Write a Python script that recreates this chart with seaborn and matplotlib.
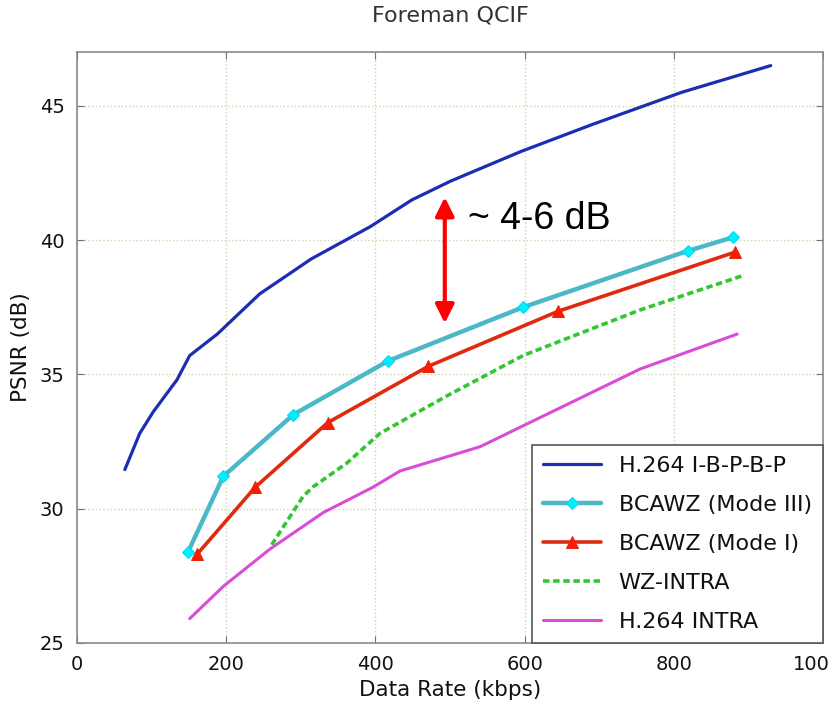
import matplotlib
matplotlib.use("Agg")
import matplotlib.pyplot as plt
import matplotlib.transforms as mtransforms
import seaborn as sns

# Rate-distortion curves (kbps, dB)
h264_ibpbp_rate = [64, 84, 102, 134, 151, 188, 245, 314, 393, 449, 501, 595, 690, 810, 930]
h264_ibpbp_psnr = [31.45, 32.8, 33.6, 34.8, 35.7, 36.5, 38.0, 39.3, 40.5, 41.5, 42.2, 43.3, 44.3, 45.5, 46.5]

mode3_rate = [149, 196, 290, 417, 598, 819, 879]
mode3_psnr = [28.4, 31.2, 33.5, 35.5, 37.5, 39.6, 40.1]

mode1_rate = [161, 239, 336, 471, 645, 882]
mode1_psnr = [28.3, 30.8, 33.2, 35.3, 37.35, 39.55]

wz_intra_rate = [261, 276, 303, 316, 362, 406, 496, 598, 755, 895]
wz_intra_psnr = [28.65, 29.3, 30.45, 30.8, 31.7, 32.8, 34.2, 35.7, 37.4, 38.7]

h264_intra_rate = [151, 196, 259, 330, 397, 433, 540, 755, 885]
h264_intra_psnr = [25.9, 27.1, 28.5, 29.85, 30.8, 31.4, 32.3, 35.2, 36.5]

x_ticks = [0, 200, 400, 600, 800, 1000]
x_tick_labels = ["0", "200", "400", "600", "800", "100"]  # last label is cut short in the source
y_ticks = [25, 30, 35, 40, 45]

sns.set_style("ticks")
plt.rcParams["font.family"] = ["DejaVu Sans"]
plt.rcParams["xtick.direction"] = "in"
plt.rcParams["ytick.direction"] = "in"

fig = plt.figure(figsize=(8.38, 7.15), dpi=100)
ax = fig.add_axes([0.092, 0.101, 0.890, 0.826])

sns.lineplot(x=h264_ibpbp_rate, y=h264_ibpbp_psnr, ax=ax, color="#1c2db4",
             linewidth=2.3, label="H.264 I-B-P-B-P")
sns.lineplot(x=mode3_rate, y=mode3_psnr, ax=ax, color="#4bb8c8", linewidth=3.2,
             marker="D", markersize=6, markerfacecolor="#00f0ff",
             markeredgecolor="#00d8f0", label="BCAWZ (Mode III)")
sns.lineplot(x=mode1_rate, y=mode1_psnr, ax=ax, color="#e02a10", linewidth=2.6,
             marker="^", markersize=8, markerfacecolor="#ff1a00",
             markeredgecolor="#e02a10", label="BCAWZ (Mode I)")
sns.lineplot(x=wz_intra_rate, y=wz_intra_psnr, ax=ax, color="#33c633", linewidth=2.6,
             linestyle=(0, (1.8, 1.0)), label="WZ-INTRA")
sns.lineplot(x=h264_intra_rate, y=h264_intra_psnr, ax=ax, color="#d84cd8",
             linewidth=2.2, label="H.264 INTRA")

# gap annotation
ax.annotate("", xy=(493, 41.6), xytext=(493, 36.9),
            arrowprops=dict(arrowstyle="<|-|>", color="#ff0000", lw=3.0,
                            mutation_scale=28, shrinkA=0, shrinkB=0))
ax.text(524, 40.8, "~ 4-6 dB", fontsize=27, family=["Liberation Sans", "DejaVu Sans"],
        va="center", ha="left", color="black")

ax.set_xlim(0, 1000)
ax.set_ylim(25, 47)
ax.set_xticks(x_ticks)
ax.set_yticks(y_ticks)
ax.set_xticklabels(x_tick_labels)
ax.tick_params(axis="both", labelsize=14, length=5, color="#707070",
               labelcolor="#111111", top=True, right=True, pad=9)
ax.grid(True, linestyle=":", linewidth=1.0, color="#c8d6b0")
for spine in ax.spines.values():
    spine.set_color("#8a8a8a")
    spine.set_linewidth(1.2)

# pull the last x label in so it stays inside the figure
last_label = ax.get_xticklabels()[-1]
last_label.set_transform(last_label.get_transform()
                         + mtransforms.ScaledTranslation(-0.12, 0, fig.dpi_scale_trans))

ax.set_title("Foreman QCIF", fontsize=16, color="#333333", pad=22)
ax.set_xlabel("Data Rate (kbps)", fontsize=15.5, labelpad=4, color="#111111")
ax.set_ylabel("PSNR (dB)", fontsize=15.5, labelpad=6, color="#111111")

leg = ax.legend(loc="lower right", borderaxespad=0, fontsize=16, handlelength=2.6,
                labelspacing=0.85, fancybox=False, framealpha=1,
                edgecolor="#555555", borderpad=0.5)
leg.get_frame().set_linewidth(1.2)
for text in leg.get_texts():
    text.set_color("#111111")

fig.savefig("out.png", dpi=100)
